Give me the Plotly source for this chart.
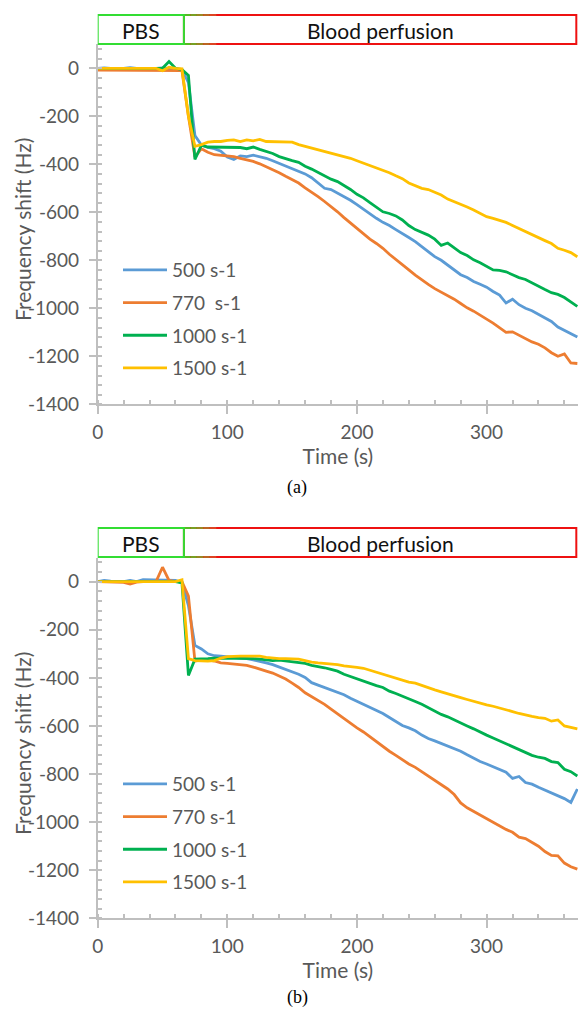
import plotly.graph_objects as go

# ---------------- data ----------------
time_s = [0, 5, 10, 15, 20, 25, 30, 35, 40, 45, 50, 55, 60, 65, 70, 75, 80, 85, 90, 95,
          100, 105, 110, 115, 120, 125, 130, 135, 140, 145, 150, 155, 160, 165, 170, 175,
          180, 185, 190, 195, 200, 205, 210, 215, 220, 225, 230, 235, 240, 245, 250, 255,
          260, 265, 270, 275, 280, 285, 290, 295, 300, 305, 310, 315, 320, 325, 330, 335,
          340, 345, 350, 355, 360, 365, 370]

series_names_a = ["500 s-1", "770 \u00a0s-1", "1000 s-1", "1500 s-1"]
series_names_b = ["500 s-1", "770 s-1", "1000 s-1", "1500 s-1"]

# panel (a)
a_500 = [0, 2, 0, -2, 0, 3, 0, 0, -2, 0, 2, 0, 0, -5, -60, -280,
         -320, -330, -335, -345, -370, -380, -365, -368, -362, -368, -375, -385, -396, -405,
         -418, -428, -440, -456, -480, -500, -505, -520, -532, -550, -568, -588, -605, -625,
         -642, -655, -672, -690, -705, -722, -742, -762, -785, -800, -820, -838, -860, -872,
         -888, -900, -912, -930, -945, -978, -962, -985, -1000, -1010, -1025, -1040, -1055,
         -1078, -1092, -1105, -1120]
a_770 = [-8, -8, -9, -8, -8, -10, -8, -8, -9, -8, -8, -8, -8, -10, -200, -370,
         -335, -350, -360, -362, -365, -368, -375, -380, -388, -398, -410, -422, -435, -450,
         -465, -478, -498, -515, -535, -555, -575, -598, -622, -645, -665, -688, -712, -730,
         -750, -775, -798, -820, -840, -862, -882, -900, -918, -932, -945, -962, -980, -998,
         -1012, -1030, -1045, -1062, -1080, -1100, -1098, -1112, -1128, -1140, -1150, -1165,
         -1185, -1200, -1190, -1228, -1230]
a_1000 = [0, 0, 0, 0, 0, 0, 0, 0, 0, 0, 0, 28, 0, -5, -30, -380,
          -320, -328, -328, -328, -328, -330, -330, -335, -328, -338, -345, -355, -368, -378,
          -385, -392, -408, -420, -435, -448, -462, -472, -488, -505, -525, -540, -560, -580,
          -598, -605, -615, -632, -655, -672, -685, -695, -712, -738, -728, -748, -768, -780,
          -798, -810, -825, -840, -842, -848, -860, -872, -880, -895, -910, -922, -935, -942,
          -955, -975, -992]
a_1500 = [0, 0, 0, 0, 0, 0, 0, 0, 0, 0, -10, 5, 0, -2, -200, -325,
          -318, -308, -305, -305, -300, -298, -305, -298, -302, -296, -305, -305, -306, -306,
          -308, -318, -325, -332, -340, -346, -352, -360, -365, -375, -385, -395, -405, -415,
          -422, -435, -448, -460, -478, -490, -500, -505, -515, -528, -545, -555, -568, -578,
          -590, -605, -618, -625, -632, -642, -655, -668, -680, -692, -708, -718, -730, -750,
          -758, -768, -785]

# panel (b)
b_500 = [0, 5, 2, 0, 0, 5, 0, 8, 8, 8, 8, 8, 5, -5, -100, -265,
         -280, -300, -308, -310, -312, -315, -318, -320, -325, -330, -338, -345, -355, -362,
         -372, -385, -398, -420, -430, -440, -450, -460, -470, -485, -498, -512, -525, -535,
         -548, -565, -582, -598, -608, -620, -638, -652, -662, -672, -685, -692, -705, -720,
         -735, -748, -758, -770, -780, -792, -818, -810, -835, -842, -855, -866, -878, -890,
         -902, -918, -862]
b_770 = [0, 0, 0, 0, -3, -10, -2, 0, 0, 0, 60, 5, 0, 0, -60, -330,
         -325, -325, -330, -338, -340, -342, -345, -348, -355, -362, -372, -380, -393, -405,
         -422, -440, -462, -478, -492, -510, -530, -550, -570, -590, -608, -625, -645, -668,
         -685, -705, -722, -740, -758, -772, -790, -808, -825, -845, -862, -885, -920, -940,
         -955, -972, -985, -1000, -1015, -1030, -1042, -1062, -1068, -1085, -1100, -1122,
         -1138, -1140, -1170, -1185, -1195]
b_1000 = [0, 0, 0, 0, 0, 0, 0, 0, 0, 0, 0, 0, 0, -5, -390, -322,
          -322, -320, -318, -318, -318, -320, -320, -318, -320, -322, -325, -328, -326, -330,
          -332, -335, -340, -348, -352, -358, -365, -372, -385, -395, -405, -412, -425, -432,
          -440, -455, -465, -475, -488, -498, -510, -525, -538, -552, -562, -575, -590, -600,
          -612, -626, -638, -650, -662, -675, -688, -698, -710, -722, -730, -735, -748, -752,
          -780, -790, -808]
b_1500 = [0, 0, 0, 0, 0, 0, 0, 0, 0, 0, 0, 0, 0, 8, -320, -328,
          -330, -330, -328, -318, -312, -310, -310, -310, -310, -310, -315, -318, -320, -320,
          -322, -322, -328, -335, -338, -340, -342, -345, -350, -352, -356, -360, -368, -375,
          -385, -392, -400, -408, -418, -422, -432, -440, -450, -458, -465, -472, -482, -490,
          -498, -505, -512, -518, -525, -530, -540, -548, -555, -560, -565, -568, -580, -575,
          -600, -605, -612]

x_ticks = [0, 100, 200, 300]
x_tick_labels = ["0", "100", "200", "300"]
y_ticks = [-1400, -1200, -1000, -800, -600, -400, -200, 0]
y_tick_labels = ["-1400", "-1200", "-1000", "-800", "-600", "-400", "-200", "0"]

for s in (a_500, a_770, a_1000, a_1500, b_500, b_770, b_1000, b_1500):
    assert len(s) == len(time_s), len(s)

# ---------------- figure ----------------
W, H = 578, 1009
colors = ["#5B9BD5", "#ED7D31", "#00B050", "#FFC000"]


def py(p):
    return 1 - p / H


def px(p):
    return p / W


fig = go.Figure()

for i, (name, vals) in enumerate(zip(series_names_a, [a_500, a_770, a_1000, a_1500])):
    fig.add_trace(go.Scatter(x=time_s, y=vals, mode="lines", name=name,
                             line=dict(color=colors[i], width=2.8),
                             xaxis="x", yaxis="y", legend="legend",
                             legendgroup="a%d" % i))
for i, (name, vals) in enumerate(zip(series_names_b, [b_500, b_770, b_1000, b_1500])):
    fig.add_trace(go.Scatter(x=time_s, y=vals, mode="lines", name=name,
                             line=dict(color=colors[i], width=2.8),
                             xaxis="x2", yaxis="y2", legend="legend2",
                             legendgroup="b%d" % i))

FS = 19
tick_font = dict(family="Lato", size=FS, color="#595959")
title_font = dict(family="Lato", size=21, color="#595959")
axcol = "#BFBFBF"


def xaxis(anchor):
    return dict(domain=[px(97.7), 1.0], anchor=anchor, range=[0, 370.5],
                tickvals=x_ticks, ticktext=x_tick_labels,
                showgrid=False, zeroline=False,
                showline=True, linecolor=axcol, linewidth=1.5,
                ticks="outside", ticklen=8, tickcolor=axcol, tickwidth=1.5,
                tickfont=tick_font, automargin=False, ticklabelstandoff=2,
                minor=dict(dtick=20, tick0=0, ticks="inside", ticklen=5,
                           tickcolor=axcol, tickwidth=1.5),
                title=dict(text="Time (s)", font=title_font, standoff=0))


def yaxis(anchor, dom):
    return dict(domain=dom, anchor=anchor, range=[-1400, 100],
                tickvals=y_ticks, ticktext=y_tick_labels,
                showgrid=False, zeroline=False,
                showline=True, linecolor=axcol, linewidth=1.5,
                ticks="outside", ticklen=7, tickcolor=axcol, tickwidth=1.5,
                tickfont=tick_font, automargin=False, ticklabelstandoff=6,
                minor=dict(dtick=40, tick0=0, ticks="inside", ticklen=5,
                           tickcolor=axcol, tickwidth=1.5))


legend_common = dict(xanchor="left", yanchor="top", bgcolor="rgba(0,0,0,0)",
                     font=dict(family="Lato", size=FS, color="#595959"),
                     tracegroupgap=5, itemclick=False, itemwidth=44)

fig.update_layout(
    width=W, height=H, margin=dict(l=0, r=0, t=0, b=0),
    paper_bgcolor="white", plot_bgcolor="white",
    showlegend=True,
    xaxis=xaxis("y"), yaxis=yaxis("x", [py(404.3), py(44.3)]),
    xaxis2=xaxis("y2"), yaxis2=yaxis("x2", [py(918.4), py(557.6)]),
    legend=dict(x=px(118), y=py(251), **legend_common),
    legend2=dict(x=px(118), y=py(765), **legend_common),
)

# phase boxes, y-axis titles and captions
green_c = "#33DD33"
red_c = "#EE1111"
shapes = []
annotations = []
grad = ["#55BB22", "#77A022", "#998822", "#BB6622", "#DD4422"]
for xr, top, bot, cap, cap_y, ytitle_y in (("x", 15, 44, "(a)", 488, 230),
                                           ("x2", 528, 557, "(b)", 997, 744)):
    shapes.append(dict(type="rect", xref=xr, yref="paper", x0=66.5, x1=369.2,
                       y0=py(bot), y1=py(top), line=dict(color=red_c, width=2)))
    for k, c in enumerate(grad):
        for yy in (top, bot):
            shapes.append(dict(type="line", xref=xr, yref="paper",
                               x0=66.5 + k * 5, x1=66.5 + (k + 1) * 5,
                               y0=py(yy), y1=py(yy), line=dict(color=c, width=2)))
    shapes.append(dict(type="rect", xref=xr, yref="paper", x0=0, x1=66.5,
                       y0=py(bot), y1=py(top), line=dict(color=green_c, width=2)))
    mid = (top + bot) / 2 + 1
    annotations.append(dict(xref=xr, yref="paper", x=33.25, y=py(mid),
                            xanchor="center", yanchor="middle",
                            text="PBS", showarrow=False,
                            font=dict(family="Lato", size=21, color="#111111")))
    annotations.append(dict(xref=xr, yref="paper", x=218, y=py(mid),
                            xanchor="center", yanchor="middle",
                            text="Blood perfusion", showarrow=False,
                            font=dict(family="Lato", size=21, color="#111111")))
    annotations.append(dict(xref="paper", yref="paper", x=px(22), y=py(ytitle_y),
                            xanchor="center", yanchor="middle", textangle=-90,
                            text="Frequency shift (Hz)", showarrow=False,
                            font=title_font))
    annotations.append(dict(xref="paper", yref="paper", x=px(297), y=py(cap_y),
                            xanchor="center", yanchor="middle",
                            text=cap, showarrow=False,
                            font=dict(family="Liberation Serif", size=18, color="#000000")))

fig.update_layout(shapes=shapes, annotations=annotations)

# remove the default 8px page margin so the 578x1009 figure fills the window exactly
fig.write_html("out.html",
               config={"displayModeBar": False},
               post_script="document.body.style.margin='0px';"
                           "document.body.style.overflow='hidden';")
